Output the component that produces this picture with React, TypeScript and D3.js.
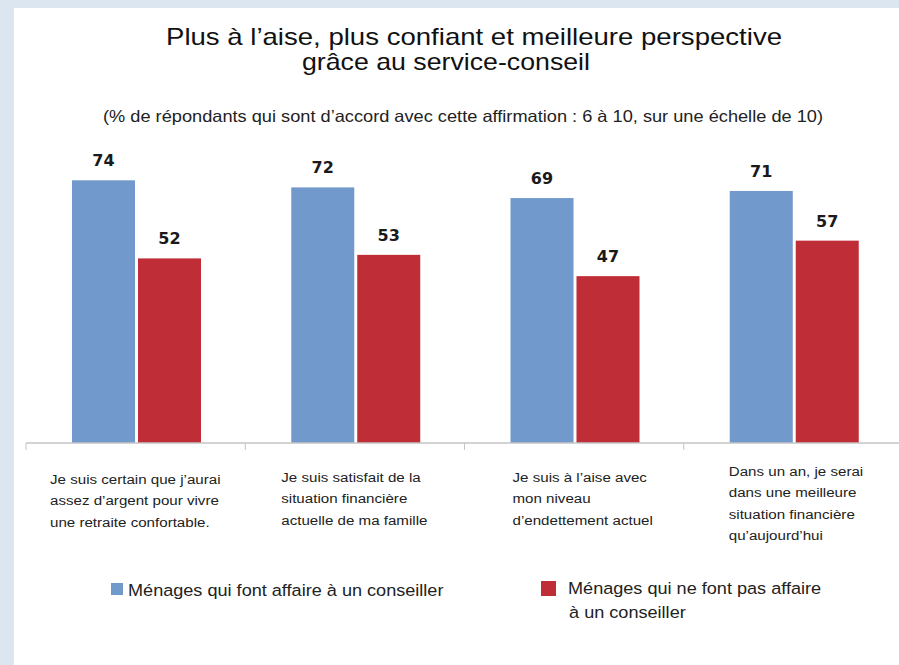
import React from "react";
import * as d3 from "d3";

const categories: string[][] = [
  ["Je suis certain que j\u2019aurai", "assez d\u2019argent pour vivre", "une retraite confortable."],
  ["Je suis satisfait de la", "situation financi\u00e8re", "actuelle de ma famille"],
  ["Je suis \u00e0 l\u2019aise avec", "mon niveau", "d\u2019endettement actuel"],
  ["Dans un an, je serai", "dans une meilleure", "situation financi\u00e8re", "qu\u2019aujourd\u2019hui"],
];
const legendLines: string[][] = [
  ["Ménages qui font affaire à un conseiller"],
  ["Ménages qui ne font pas affaire", "à un conseiller"],
];
const withAdvisor = [74, 72, 69, 71];
const withoutAdvisor = [52, 53, 47, 57];

const titleLines = ["Plus à l\u2019aise, plus confiant et meilleure perspective", "grâce au service-conseil"];
const subtitle = "(% de répondants qui sont d\u2019accord avec cette affirmation : 6 à 10, sur une échelle de 10)";

// layout constants
const W = 899;
const H = 665;
const baseY = 443;
const labelDx = [24, 36, 48, 45];
const labelY = [484, 482, 482, 476];
const colors = ["#7199cb", "#bf2d37"];
const FONT = "'Liberation Sans', Arial, sans-serif";
const SX = 1.12;

export default function App() {
  const keys = categories.map((_, i) => String(i));
  const x0 = d3.scaleBand<string>().domain(keys).range([26, 903]).paddingInner(0).paddingOuter(0);
  const x1 = d3.scaleBand<string>().domain(["a", "b"]).range([46, 175]).paddingInner(0.045);
  const y = d3.scaleLinear().domain([0, 100]).range([baseY, 88]);
  const series = [withAdvisor, withoutAdvisor];
  const sKeys = ["a", "b"];

  return (
    <svg width={W} height={H} style={{ position: "absolute", left: 0, top: 0, display: "block" }}>
      <rect x={0} y={0} width={W} height={H} fill="#dce6f1" />
      <rect x={14} y={8} width={W - 14} height={H - 8} fill="#ffffff" />

      <g fontFamily={FONT} fill="#111">
        <text x={166} y={45} fontSize={24} textLength={616} lengthAdjust="spacingAndGlyphs">{titleLines[0]}</text>
        <text x={302} y={70} fontSize={24} textLength={288} lengthAdjust="spacingAndGlyphs">{titleLines[1]}</text>
        <text x={103} y={122} fontSize={16.5} fill="#222" textLength={720} lengthAdjust="spacingAndGlyphs">{subtitle}</text>
      </g>

      {keys.map((k, i) => (
        <g key={k} transform={`translate(${x0(k)},0)`}>
          {series.map((vals, si) => (
            <g key={si}>
              <rect
                x={x1(sKeys[si])}
                y={y(vals[i])}
                width={x1.bandwidth()}
                height={baseY - y(vals[i])}
                fill={colors[si]}
              />
              <text
                x={(x1(sKeys[si]) as number) + x1.bandwidth() / 2}
                y={y(vals[i]) - 14}
                textAnchor="middle"
                fontFamily="'DejaVu Sans', Verdana, sans-serif"
                fontWeight="bold"
                fontSize={16}
                fill="#1a1a1a"
              >
                {vals[i]}
              </text>
            </g>
          ))}
        </g>
      ))}

      <line x1={26} x2={W} y1={baseY} y2={baseY} stroke="#c4c4c4" strokeWidth={1.5} />
      {keys.map((k) => (
        <line key={k} x1={x0(k)} x2={x0(k)} y1={baseY} y2={baseY + 7} stroke="#c4c4c4" strokeWidth={1} />
      ))}

      <g fontFamily={FONT} fontSize={13.5} fill="#222">
        {categories.map((lines, i) => (
          <g key={i} transform={`translate(${(x0(keys[i]) as number) + labelDx[i]},${labelY[i]}) scale(${SX},1)`}>
            <text x={0} y={0}>
              {lines.map((l, j) => (
                <tspan key={j} x={0} dy={j === 0 ? 0 : 21.5}>
                  {l}
                </tspan>
              ))}
            </text>
          </g>
        ))}
      </g>

      <g fontFamily={FONT} fontSize={17} fill="#222">
        <rect x={111} y={583} width={12} height={12} fill={colors[0]} />
        <g transform="translate(128,596) scale(1.065,1)">
          <text x={0} y={0}>{legendLines[0][0]}</text>
        </g>
        <rect x={541} y={581} width={15} height={15} fill={colors[1]} />
        <g transform="translate(568,594) scale(1.065,1)">
          <text x={0} y={0}>
            <tspan x={0}>{legendLines[1][0]}</tspan>
            <tspan x={1} dy={24}>{legendLines[1][1]}</tspan>
          </text>
        </g>
      </g>
    </svg>
  );
}
